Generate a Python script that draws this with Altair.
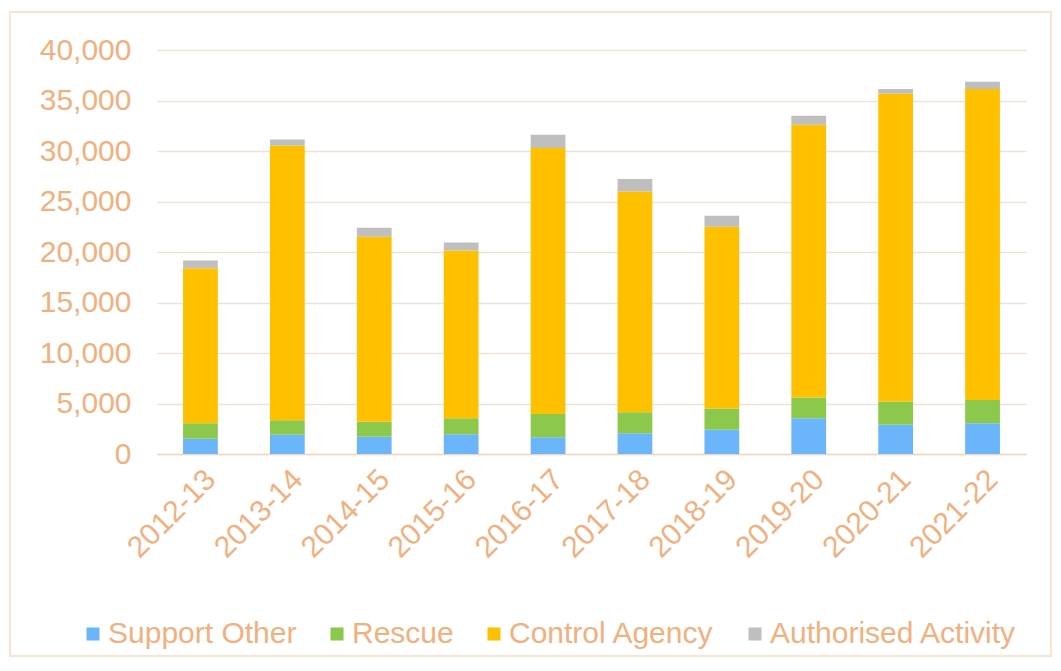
import altair as alt
import pandas as pd

years = ["2012-13", "2013-14", "2014-15", "2015-16", "2016-17",
         "2017-18", "2018-19", "2019-20", "2020-21", "2021-22"]
series = ["Support Other", "Rescue", "Control Agency", "Authorised Activity"]
support_other = [1500, 1900, 1700, 1950, 1650, 2050, 2400, 3550, 2900, 3050]
rescue = [1550, 1450, 1500, 1600, 2300, 2080, 2100, 2050, 2300, 2300]
control_agency = [15350, 27200, 18300, 16600, 26350, 21850, 18000, 27000, 30500, 30800]
authorised_activity = [750, 600, 900, 800, 1300, 1250, 1100, 900, 450, 700]
colors = ["#6BB6FA", "#8CC84B", "#FFC000", "#BFBFBF"]

rows = []
for si, (name, vals) in enumerate(zip(series, [support_other, rescue, control_agency, authorised_activity])):
    for y, v in zip(years, vals):
        rows.append({"year": y, "series": name, "value": v, "order": si})
df = pd.DataFrame(rows)

TXT = "#F2B07E"
FONT = "Liberation Sans"
FS = 30

bars = alt.Chart(df).mark_bar().encode(
    x=alt.X("year:N", sort=years,
            scale=alt.Scale(paddingInner=0.6, paddingOuter=0.3),
            axis=alt.Axis(title=None, labelAngle=-45, labelFontSize=FS, labelColor=TXT,
                          labelFont=FONT, ticks=False, domainColor="#F6D5BF", domainWidth=1.5,
                          labelPadding=10)),
    y=alt.Y("value:Q", stack="zero",
            scale=alt.Scale(domain=[0, 40000]),
            axis=alt.Axis(title=None, values=list(range(0, 40001, 5000)), format=",d",
                          labelFontSize=FS, labelColor=TXT, labelFont=FONT, ticks=False,
                          domain=False, gridColor="#EDE2DA", gridWidth=1.5, labelPadding=26)),
    color=alt.Color("series:N", sort=series,
                    scale=alt.Scale(domain=series, range=colors),
                    legend=alt.Legend(title=None, orient="none", direction="horizontal",
                                      legendX=-79, legendY=569, symbolType="square",
                                      symbolSize=170, symbolStrokeWidth=0, labelFontSize=FS,
                                      labelColor=TXT, labelFont=FONT, columnPadding=25,
                                      labelOffset=0, labelLimit=0)),
    order=alt.Order("order:Q", sort="ascending"),
)

border = alt.Chart(pd.DataFrame({"a": [0]})).mark_rect(
    fill=None, stroke="#FBE3D2", strokeWidth=2
).encode(
    x=alt.value(-147), x2=alt.value(894), y=alt.value(-38), y2=alt.value(606)
)

chart = alt.layer(border, bars).properties(
    width=869, height=404,
    autosize=alt.AutoSizeParams(type="none"),
    padding={"left": 149, "top": 42, "right": 27, "bottom": 205},
    background="white",
).configure_view(stroke=None)

chart.save("out.html", embed_options={"renderer": "svg", "actions": False})
